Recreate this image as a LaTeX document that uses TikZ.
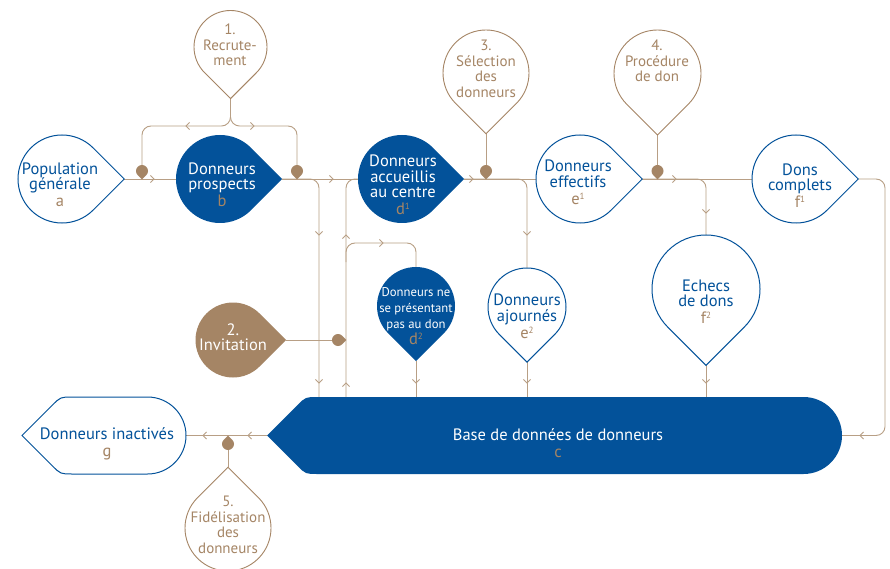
\documentclass[tikz,border=0pt]{standalone}
\usepackage{fontspec}
\setmainfont{PT Sans}
\usetikzlibrary{calc}
\definecolor{dblue}{HTML}{03529A}
\definecolor{brn}{HTML}{A58565}
\definecolor{lbrn}{HTML}{B89F85}
\newcommand\fbig{\fontsize{16.5}{15.5}\selectfont}
\newcommand\fstep{\fontsize{15}{15.5}\selectfont}
\newcommand\fsmall{\fontsize{12.7}{16}\selectfont}
\newcommand\sups[1]{\raisebox{5pt}{\fontsize{9}{9}\selectfont #1}}
\tikzset{
  conn/.style={draw=lbrn, line width=0.9pt, rounded corners=9pt},
  chv/.style={draw=lbrn, line width=0.8pt},
  outl/.style={draw=dblue, line width=1pt, fill=white},
  filled/.style={fill=dblue},
  stepo/.style={draw=brn, line width=0.9pt, fill=white},
  stepf/.style={fill=brn},
  dotf/.style={fill=brn},
  bt/.style={text=dblue, align=center, font=\fbig, inner sep=0pt},
  wt/.style={text=white, align=center, font=\fbig, inner sep=0pt},
  st/.style={text=brn, align=center, font=\fstep, inner sep=0pt},
}
% #1 name, #2 x, #3 y, #4 radius, #5 direction of tip, #6 style
\newcommand\drop[6]{%
  \path[#6] ($(#2,#3)+(#5:{#4*1.41421})$) -- ($(#2,#3)+({#5+45}:#4)$)
     arc[start angle={#5+45}, delta angle=270, radius=#4] -- cycle;
  \coordinate (#1) at (#2,#3);
  \coordinate (#1-tip) at ($(#2,#3)+(#5:{#4*1.41421})$);
  \coordinate (#1-w) at ($(#2,#3)+(180:#4)$);
  \coordinate (#1-n) at ($(#2,#3)+(-90:#4)$);
}
\newcommand\chev[3]{\draw[chv] ($(#1,#2)+({#3+135}:5)$) -- (#1,#2) -- ($(#1,#2)+({#3-135}:5)$);}
\begin{document}
\begin{tikzpicture}[x=1pt,y=-1pt]
\useasboundingbox (0,0) rectangle (890,569);
\fill[white] (0,0) rectangle (890,569);

\coordinate (db-top) at (560,397);
\coordinate (db-tip) at (267,435.5);
\coordinate (db-e) at (842,435.5);
\coordinate (g-e) at (186,435.5);

% ---- connectors ----
\draw[conn] (230.5,98) -- (230.5,126) -- (142,126) -- (142,165);
\draw[conn] (230.5,98) -- (230.5,126) -- (297,126) -- (297,165);
\chev{186}{126}{180}\chev{254}{126}{0}
\draw[conn] (124,179) -- (176,179); \chev{154}{179}{0}
\draw[conn] (282,179) -- (358,179); \chev{333}{179}{0}
\draw[conn] (282,179) -- (319,179) -- (319,0 |- db-top);
\chev{319}{235}{90}\chev{319}{383}{90}
\draw[conn] (346,0 |- db-top) -- (346,179) -- (358,179);
\chev{346}{235}{-90}\chev{346}{383}{-90}
\draw[conn] (346,262) -- (346,243) -- (416,243) -- (416,267);
\chev{383}{243}{0}
\draw[conn] (286,340) -- (332,340);
\draw[conn] (416,361) -- (416,0 |- db-top); \chev{416}{383}{90}
\draw[conn] (464,179) -- (536,179); \chev{473}{179}{0}
\draw[conn] (486,133) -- (486,166);
\draw[conn] (464,179) -- (527,179) -- (527,268); \chev{527}{235}{90}
\draw[conn] (527,362) -- (527,0 |- db-top); \chev{527}{383}{90}
\draw[conn] (642,179) -- (752,179); \chev{676}{179}{0}
\draw[conn] (657.5,135) -- (657.5,166);
\draw[conn] (642,179) -- (706,179) -- (706,235); \chev{706}{213}{90}
\draw[conn] (706,365) -- (706,0 |- db-top); \chev{706}{383}{90}
\draw[conn] (858,179) -- (885,179) -- (885,435.5) -- (db-e); \chev{860}{435.5}{180}
\draw[conn] (db-tip) -- (g-e); \chev{248}{435.5}{180}\chev{203}{435.5}{180}
\draw[conn] (228,467) -- (228,448);

% ---- shapes ----
\drop{a}{62}{179}{44}{0}{outl}
\drop{b}{220}{179}{44}{0}{filled}
\drop{d1}{402}{179}{44}{0}{filled}
\drop{e1}{580}{179}{44}{0}{outl}
\drop{f1}{796}{179}{44}{0}{outl}
\drop{s1}{230.5}{47}{36.5}{90}{stepo}
\drop{s3}{486}{73}{43}{90}{stepo}
\drop{s4}{657.5}{73.5}{43.5}{90}{stepo}
\drop{s2}{233}{340}{37.5}{0}{stepf}
\drop{d2}{416}{306}{39}{90}{filled}
\drop{e2}{527}{307}{39}{90}{outl}
\drop{f2}{706}{289}{54}{90}{outl}
\drop{s5}{228}{528}{43}{-90}{stepo}
\drop{k1}{142}{171}{6}{90}{dotf}
\drop{k2}{297}{171}{6}{90}{dotf}
\drop{k3}{486}{171}{6}{90}{dotf}
\drop{k4}{657.5}{171}{6}{90}{dotf}
\drop{k5}{338}{340}{6}{0}{dotf}
\drop{k6}{228}{444}{6}{-90}{dotf}

% database
\path[fill=dblue] (db-tip) -- (297,405.5) .. controls (305.5,397) .. (317.5,397) -- (803.5,397)
   arc[start angle=-90, end angle=90, radius=38.5] -- (317.5,474) .. controls (305.5,474) .. (297,465.5) -- cycle;
% inactive donors
\path[outl] (22,435.5) -- (52,405.5) .. controls (60.5,397) .. (72.5,397) -- (147.5,397)
   arc[start angle=-90, end angle=90, radius=38.5] -- (72.5,474) .. controls (60.5,474) .. (52,465.5) -- cycle;

% ---- texts ----
\node[bt] (ta) at (60,184.5) {Population\\générale\\[1.5pt]{\color{brn}a}};
\node[wt] (tb) at (222,184.5) {Donneurs\\prospects\\[1.5pt]{\color{brn}b}};
\node[wt] (td1) at (403,185) {Donneurs\\accueillis\\au centre\\[1.5pt]{\color{brn}d\sups{1}}};
\node[bt] (te1) at (578,182.5) {Donneurs\\effectifs\\[1.5pt]{\color{brn}e\sups{1}}};
\node[bt] (tf1) at (800,185.5) {Dons\\complets\\[1.5pt]{\color{brn}f\sups{1}}};
\node[st] (ts1) at (230,45) {1.\\Recrute-\\ment};
\node[st] (ts3) at (486,69) {3.\\Sélection\\des\\donneurs};
\node[st] (ts4) at (657,61) {4.\\Procédure\\de don};
\node[wt] (ts2) at (233,337) {2.\\Invitation};
\node[wt, font=\fsmall] (td2) at (416,316) {Donneurs ne\\se présentant\\pas au don\\{\fbig\color{brn}d\sups{2}}};
\node[bt] (te2) at (527,316.5) {Donneurs\\ajournés\\[1.5pt]{\color{brn}e\sups{2}}};
\node[bt] (tf2) at (706,301.5) {Echecs\\de dons\\[1.5pt]{\color{brn}f\sups{2}}};
\node[st] (ts5) at (228,525) {5.\\Fidélisation\\des\\donneurs};
\node[bt] (tg) at (107,443.5) {Donneurs inactivés\\[1.5pt]{\color{brn}g}};
\node[wt] (tc) at (558,443.5) {Base de données de donneurs\\[1.5pt]{\color{brn}c}};
\end{tikzpicture}
\end{document}
